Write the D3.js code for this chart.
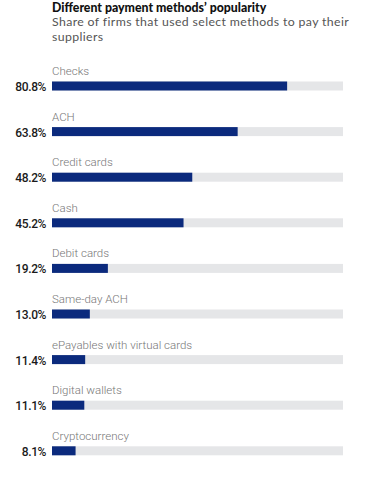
<!DOCTYPE html>
<html>
<head>
<meta charset="utf-8">
<script src="https://cdn.jsdelivr.net/npm/d3@7"></script>
<style>
  body { margin: 0; background: #fff; }
  svg { display: block; }
</style>
</head>
<body>
<div id="chart"></div>
<script>
var categories = ["Checks", "ACH", "Credit cards", "Cash", "Debit cards", "Same-day ACH", "ePayables with virtual cards", "Digital wallets", "Cryptocurrency"];
var values = [80.8, 63.8, 48.2, 45.2, 19.2, 13.0, 11.4, 11.1, 8.1];
var valueLabels = ["80.8%", "63.8%", "48.2%", "45.2%", "19.2%", "13.0%", "11.4%", "11.1%", "8.1%"];

var W = 368, H = 479;

var svg = d3.select("#chart").append("svg")
    .attr("width", W)
    .attr("height", H);

// title
svg.append("text")
    .attr("x", 52).attr("y", 11.5)
    .attr("font-family", "Lato, 'Open Sans', sans-serif")
    .attr("font-weight", 900)
    .attr("font-size", 12.3)
    .attr("fill", "#111")
    .text("Different payment methods\u2019 popularity");

// subtitle
svg.append("text")
    .attr("x", 52).attr("y", 26.4)
    .attr("font-family", "Lato, 'Open Sans', sans-serif")
    .attr("font-size", 12.3)
    .attr("letter-spacing", 0.37)
    .attr("fill", "#555")
    .text("Share of firms that used select methods to pay their");
svg.append("text")
    .attr("x", 52).attr("y", 41.4)
    .attr("font-family", "Lato, 'Open Sans', sans-serif")
    .attr("font-size", 12.3)
    .attr("letter-spacing", 0.37)
    .attr("fill", "#555")
    .text("suppliers");

var x = d3.scaleLinear().domain([0, 100]).range([52, 343]);
var y = d3.scaleBand().domain(categories).range([63.5, 63.5 + 45.6 * categories.length]);

var rows = svg.selectAll("g.row")
    .data(categories)
    .enter().append("g")
    .attr("class", "row")
    .attr("transform", function (d) { return "translate(0," + y(d) + ")"; });

rows.append("text")
    .attr("x", 52).attr("y", 11.5)
    .attr("font-family", "Roboto, sans-serif")
    .attr("font-weight", 300)
    .attr("font-size", 11.5)
    .attr("fill", "#777")
    .text(function (d) { return d; });

// track
rows.append("rect")
    .attr("x", x(0)).attr("y", 18)
    .attr("width", x(100) - x(0))
    .attr("height", 9)
    .attr("fill", "#e5e6e8");

// bar
rows.append("rect")
    .attr("x", x(0)).attr("y", 18)
    .attr("width", function (d, i) { return x(values[i]) - x(0); })
    .attr("height", 9)
    .attr("fill", "#0b2a7d");

rows.append("text")
    .attr("x", 46).attr("y", 27.5)
    .attr("text-anchor", "end")
    .attr("font-family", "Roboto, sans-serif")
    .attr("font-weight", 500)
    .attr("font-size", 12)
    .attr("letter-spacing", -0.4)
    .attr("fill", "#1a1a1a")
    .text(function (d, i) { return valueLabels[i]; });
</script>
</body>
</html>
